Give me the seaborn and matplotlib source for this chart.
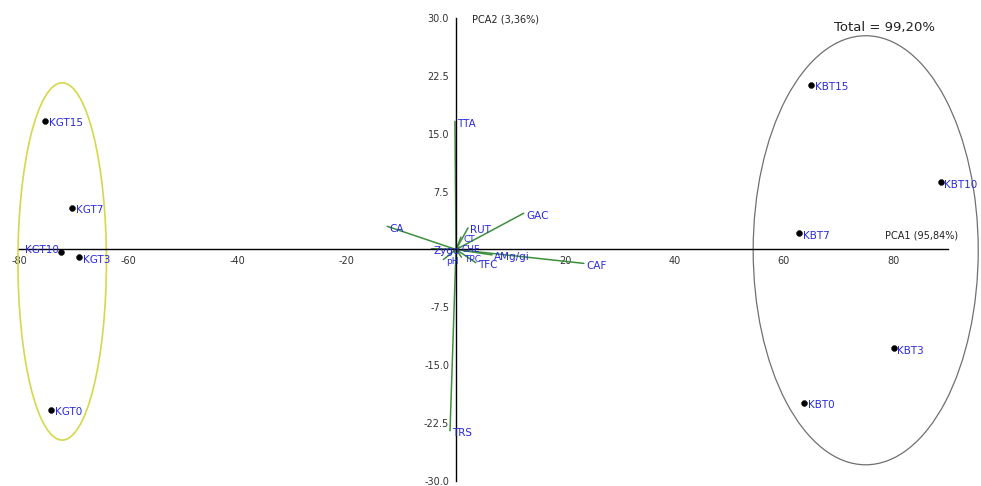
import matplotlib
matplotlib.use("Agg")
import matplotlib.pyplot as plt
from matplotlib.patches import Ellipse
import seaborn as sns
import pandas as pd

# sample scores
samples = ["KGT15", "KGT7", "KGT10", "KGT3", "KGT0",
           "KBT15", "KBT10", "KBT7", "KBT3", "KBT0"]
pc1 = [-75.2, -70.3, -72.3, -69.0, -74.1, 65.0, 88.7, 62.8, 80.1, 63.7]
pc2 = [16.7, 5.4, -0.3, -1.0, -20.8, 21.3, 8.7, 2.1, -12.8, -19.9]

# variable loadings (biplot vectors)
variables = ["TTA", "TRS", "CA", "GAC", "CAF", "RUT", "CT", "Zygo", "CHE",
             "pH", "TPC", "TFC", "AMg/gi"]
load1 = [-0.2, -1.1, -12.6, 12.4, 23.4, 2.2, 0.9, -4.5, 0.6,
         -2.3, 1.0, 3.6, 6.6]
load2 = [16.6, -23.5, 3.0, 4.7, -1.8, 2.8, 1.6, 0.1, 0.3,
         -1.3, -1.0, -1.7, -0.7]

xticks = [-80, -60, -40, -20, 20, 40, 60, 80]
yticks = [30.0, 22.5, 15.0, 7.5, -7.5, -15.0, -22.5, -30.0]

scores = pd.DataFrame({"sample": samples, "PC1": pc1, "PC2": pc2})

sns.set_style("white")
fig = plt.figure(figsize=(9.81, 4.86), dpi=100)
ax = fig.add_axes([0.0194, 0.0103, 0.9466, 0.9527])

green = "#3d8f3d"
blue = "#2a2ae0"

for v, x, y in zip(variables, load1, load2):
    ax.plot([0, x], [0, y], color=green, lw=1.1, zorder=2)
    # short vectors crowd the origin, so give them smaller labels
    fs = 7.5 if (x * x + y * y) > 9 else 6.5
    ax.text(x + 0.4, y - 0.3, v, color=blue, fontsize=fs, ha="left",
            va="center", zorder=4)

sns.scatterplot(data=scores, x="PC1", y="PC2", color="black", s=18,
                edgecolor="black", ax=ax, zorder=5)
for s, x, y in zip(samples, pc1, pc2):
    if s == "KGT10":
        ax.text(x - 0.4, y + 0.2, s, color=blue, fontsize=7.5, ha="right",
                va="center", zorder=5)
    else:
        ax.text(x + 0.7, y - 0.3, s, color=blue, fontsize=7.5, ha="left",
                va="center", zorder=5)

ax.add_patch(Ellipse((-72.1, -1.55), 16.2, 46.3, fill=False,
                     edgecolor="#d4d84a", lw=1.2, clip_on=False))
ax.add_patch(Ellipse((75.0, -0.1), 41.2, 55.6, fill=False,
                     edgecolor="#707070", lw=0.9, clip_on=False))

ax.set_xlim(-80, 90)
ax.set_ylim(-30, 30)
ax.spines["left"].set_position(("data", 0))
ax.spines["bottom"].set_position(("data", 0))
ax.spines["top"].set_visible(False)
ax.spines["right"].set_visible(False)
for sp in ["left", "bottom"]:
    ax.spines[sp].set_color("black")
    ax.spines[sp].set_linewidth(1.0)

ax.set_xticks(xticks)
ax.set_xticklabels([str(t) for t in xticks])
ax.set_yticks(yticks)
ax.set_yticklabels([f"{t:.1f}" for t in yticks])
ax.tick_params(axis="both", direction="out", length=4, width=0.8,
               labelsize=7, colors="black", labelcolor="#333333", pad=1)
ax.set_xlabel("")
ax.set_ylabel("")

ax.text(3.0, 29.8, "PCA2 (3,36%)", fontsize=7, color="#222222",
        ha="left", va="center")
ax.text(78.5, 1.8, "PCA1 (95,84%)", fontsize=7, color="#222222",
        ha="left", va="center")
ax.text(78.5, 28.8, "Total = 99,20%", fontsize=9.5, color="#222222",
        ha="center", va="center")

fig.savefig("out.png", dpi=100)
